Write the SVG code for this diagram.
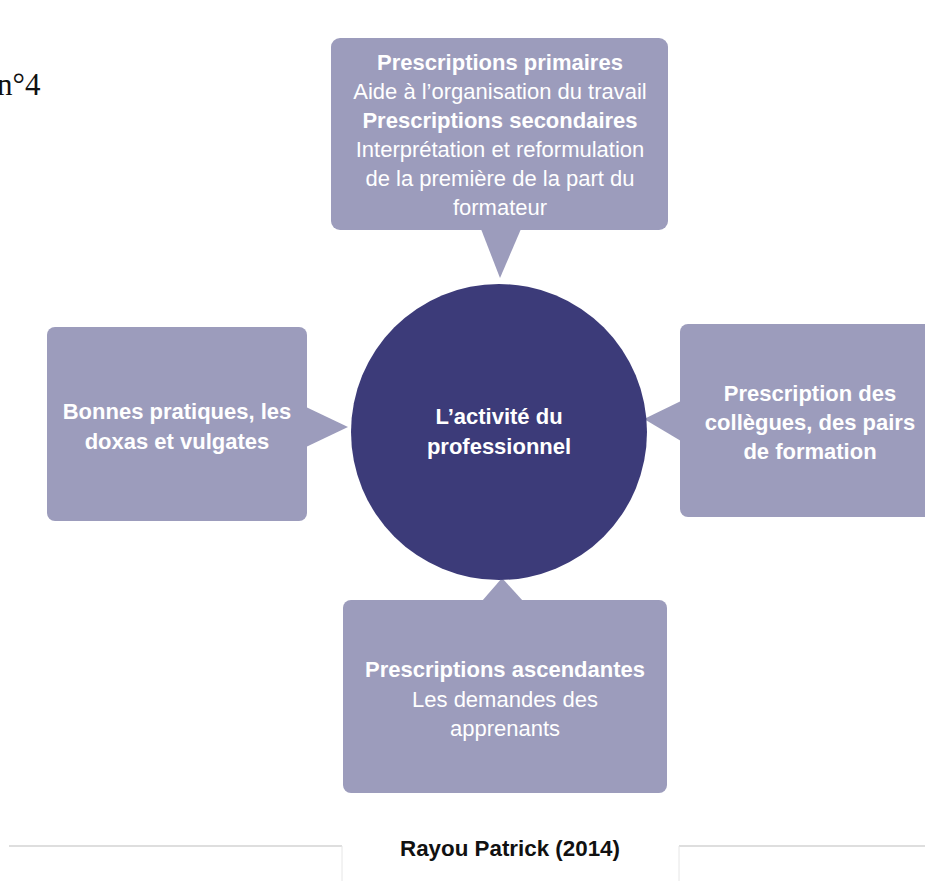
<svg xmlns="http://www.w3.org/2000/svg" width="925" height="881" viewBox="0 0 925 881">
<style>
.box{fill:#9c9cbc}
.tail{fill:#9c9cbc}
.t{font-family:"Liberation Sans",Arial,sans-serif;font-size:22px;fill:#ffffff;text-anchor:middle}
.b{font-weight:bold}
.hl{stroke:#bdbdbd;stroke-width:1.2;fill:none}
.vl{stroke:#e6e6e6;stroke-width:1;fill:none}
</style>
<rect width="925" height="881" fill="#ffffff"/>
<text x="-3" y="95" font-family="'Liberation Serif','Times New Roman',serif" font-size="31" fill="#111111">n°4</text>

<g id="connectors">
  <polygon class="tail" points="481,229 521,229 500,278"/>
  <polygon class="tail" points="306,407 306,447 348,427"/>
  <polygon class="tail" points="681,401 681,441 644,419"/>
  <polygon class="tail" points="482,601 523,601 502,578"/>
</g>

<g id="node-top">
  <rect class="box" x="331" y="38" width="337" height="192" rx="9"/>
  <text class="t b" x="500" y="70">Prescriptions primaires</text>
  <text class="t" x="500" y="99">Aide à l’organisation du travail</text>
  <text class="t b" x="500" y="128">Prescriptions secondaires</text>
  <text class="t" x="500" y="157">Interprétation et reformulation</text>
  <text class="t" x="500" y="186">de la première de la part du</text>
  <text class="t" x="500" y="215">formateur</text>
</g>

<g id="node-left">
  <rect class="box" x="47" y="327" width="260" height="194" rx="8"/>
  <text class="t b" x="177" y="419">Bonnes pratiques, les</text>
  <text class="t b" x="177" y="449">doxas et vulgates</text>
</g>

<g id="node-right">
  <rect class="box" x="680" y="324" width="265" height="193" rx="8"/>
  <text class="t b" x="810" y="401">Prescription des</text>
  <text class="t b" x="810" y="430">collègues, des pairs</text>
  <text class="t b" x="810" y="459">de formation</text>
</g>

<g id="node-bottom">
  <rect class="box" x="343" y="600" width="324" height="193" rx="8"/>
  <text class="t b" x="505" y="677">Prescriptions ascendantes</text>
  <text class="t" x="505" y="707">Les demandes des</text>
  <text class="t" x="505" y="736">apprenants</text>
</g>

<g id="node-center">
  <circle cx="499" cy="432" r="148" fill="#3c3b79"/>
  <text class="t b" x="499" y="424" font-size="21">L’activité du</text>
  <text class="t b" x="499" y="454" font-size="21">professionnel</text>
</g>

<g id="caption">
  <line class="hl" x1="9" y1="846" x2="342" y2="846"/>
  <line class="vl" x1="342" y1="846" x2="342" y2="881"/>
  <line class="hl" x1="679" y1="846" x2="925" y2="846"/>
  <line class="vl" x1="679" y1="846" x2="679" y2="881"/>
  <text x="510" y="856" font-family="'Liberation Sans',Arial,sans-serif" font-size="22" font-weight="bold" fill="#111111" text-anchor="middle" textLength="220" lengthAdjust="spacingAndGlyphs">Rayou Patrick (2014)</text>
</g>
</svg>
